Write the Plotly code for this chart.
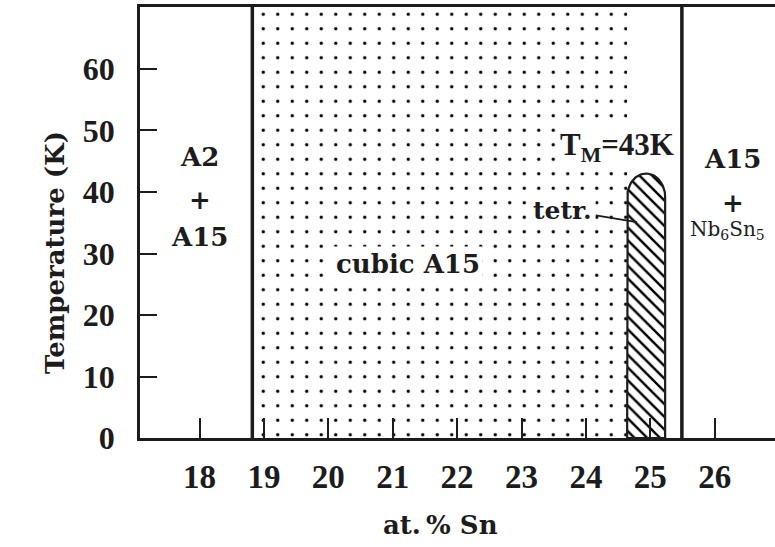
import numpy as np
import plotly.graph_objects as go

# ---- data ----
x_ticks = [18, 19, 20, 21, 22, 23, 24, 25, 26]
y_ticks = [0, 10, 20, 30, 40, 50, 60]
x_range = [17.076, 26.936]
y_range = [0, 70.08]

a2_a15_boundary = 18.82      # at.% Sn, A2+A15 | A15
a15_nb6sn5_boundary = 25.49  # at.% Sn, A15 | A15+Nb6Sn5
tetr_left = 24.64            # tetragonal region, left edge
tetr_right = 25.23           # tetragonal region, right edge
t_m = 43.0                   # martensitic transition temperature (K)
dome_height = 3.8            # K, rounded cap of the tetragonal region

INK = "#1c1c1c"
SERIF = "DejaVu Serif"
TIMES = "Liberation Serif"

fig = go.Figure()

# cubic A15 single-phase region (dotted)
fig.add_trace(go.Scatter(
    x=[a2_a15_boundary, tetr_left, tetr_left, a2_a15_boundary, a2_a15_boundary],
    y=[y_range[0], y_range[0], y_range[1], y_range[1], y_range[0]],
    mode="lines", fill="toself", line=dict(width=0),
    fillcolor="white",
    fillpattern=dict(shape=".", fgcolor="#000000", fgopacity=1, bgcolor="white",
                     size=14.5, solidity=0.042),
    hoverinfo="skip", showlegend=False))

# tetragonal region (hatched capsule)
cx = (tetr_left + tetr_right) / 2
rx = (tetr_right - tetr_left) / 2
base = t_m - dome_height
ang = np.linspace(np.pi, 0, 40)
cap_x = list(cx + rx * np.cos(ang))
cap_y = list(base + dome_height * np.sin(ang))
tx = [tetr_left] + cap_x + [tetr_right, tetr_left]
ty = [0] + cap_y + [0, 0]
fig.add_trace(go.Scatter(
    x=tx, y=ty, mode="lines", fill="toself",
    line=dict(color=INK, width=2.2),
    fillcolor="white",
    fillpattern=dict(shape="\\", fgcolor="#000000", fgopacity=1, bgcolor="white",
                     size=9, solidity=0.27),
    hoverinfo="skip", showlegend=False))

# phase boundaries
for xb in [a2_a15_boundary, a15_nb6sn5_boundary]:
    fig.add_shape(type="line", x0=xb, x1=xb, y0=y_range[0], y1=y_range[1],
                  xref="x", yref="y", line=dict(color=INK, width=3.5), layer="above")

def label(text, x, y, size=26, family=SERIF, weight="bold", **kw):
    fig.add_annotation(x=x, y=y, text=text, showarrow=False,
                       font=dict(family=family, size=size, color=INK, weight=weight), **kw)

# left region
label("A2", 18.0, 45.7)
label("+", 18.0, 38.7)
label("A15", 18.0, 32.7)
# cubic
label("cubic A15", 21.24, 28.3, bgcolor="white", borderpad=2)
# T_M
label("T<sub>M</sub>=43K", 24.48, 47.3, size=31, family=TIMES, bgcolor="white", borderpad=1)
# right region
label("A15", 26.28, 45.4)
label("+", 26.28, 38.2)
label("Nb<sub>6</sub>Sn<sub>5</sub>", 25.585, 33.8, size=20, weight="normal", xanchor="left")

# tetr. with pointer
fig.add_annotation(x=24.79, y=35.1, text="tetr.", showarrow=True, arrowhead=0,
                   arrowwidth=1.8, arrowcolor=INK, ax=-74, ay=-12,
                   bgcolor="white", borderpad=3,
                   font=dict(family=SERIF, size=25, color=INK, weight="bold"))

# axis titles
fig.add_annotation(xref="paper", yref="paper", x=0, y=0.429, xshift=-102,
                   text="Temperature (K)", textangle=-90, showarrow=False,
                   font=dict(family=SERIF, size=26, color=INK, weight="bold"))
fig.add_annotation(xref="paper", yref="paper", x=0.474, y=0, yshift=-104,
                   text="at.&#8201;%&#160;Sn", showarrow=False,
                   font=dict(family=SERIF, size=26, color=INK, weight="bold"))

fig.update_xaxes(range=x_range, tickvals=x_ticks, ticktext=[str(v) for v in x_ticks],
                 ticks="inside", ticklen=20, tickwidth=2, tickcolor=INK,
                 showline=True, linecolor=INK, linewidth=2.5, mirror=True,
                 showgrid=False, zeroline=False, ticklabelstandoff=8,
                 tickfont=dict(family=TIMES, size=33, color=INK, weight="bold"))
fig.update_yaxes(range=y_range, tickvals=y_ticks, ticktext=[str(v) for v in y_ticks],
                 ticks="inside", ticklen=17, tickwidth=2, tickcolor=INK,
                 showline=True, linecolor=INK, linewidth=2.5, mirror=False,
                 showgrid=False, zeroline=False, ticklabelstandoff=16,
                 tickfont=dict(family=TIMES, size=32, color=INK, weight="bold"))

fig.update_layout(width=775, height=547, margin=dict(l=140, r=0, t=7, b=109),
                  paper_bgcolor="white", plot_bgcolor="white", showlegend=False)

fig.write_html("out.html")
